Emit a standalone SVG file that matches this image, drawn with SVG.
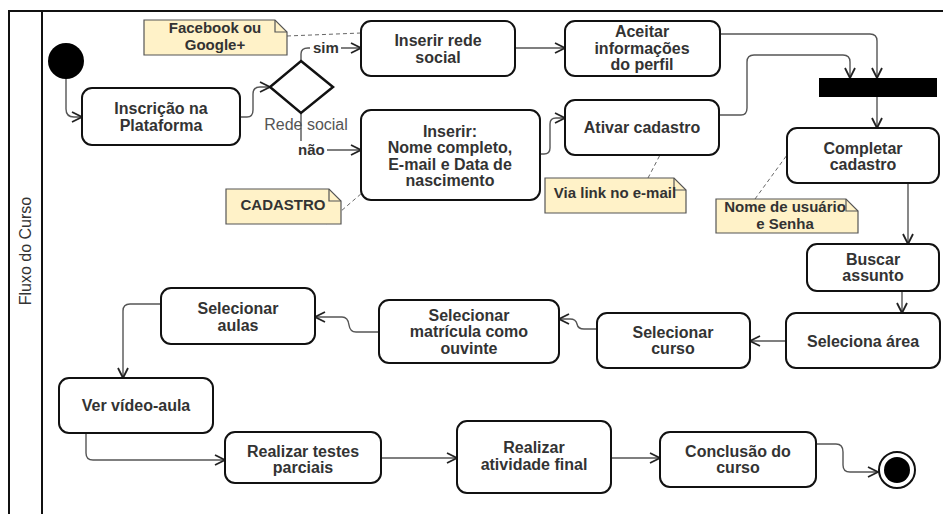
<svg xmlns="http://www.w3.org/2000/svg" width="943" height="514" viewBox="0 0 943 514">
  <style>
    .node { fill: #ffffff; stroke: #111111; stroke-width: 2; }
    .lbl { font-family: "Liberation Sans", Arial, sans-serif; font-size: 16px; font-weight: bold; fill: #333333; text-anchor: middle; }
    .note { fill: #fff2c8; stroke: #555555; stroke-width: 1.2; }
    .fold { fill: none; stroke: #555555; stroke-width: 1.2; }
    .ntxt { font-family: "Liberation Sans", Arial, sans-serif; font-size: 15px; font-weight: bold; fill: #333333; text-anchor: middle; }
    .edge { fill: none; stroke: #555555; stroke-width: 1.4; marker-end: url(#arr); }
    .anchor { fill: none; stroke: #666666; stroke-width: 1; stroke-dasharray: 4 3; }
    .guard { font-family: "Liberation Sans", Arial, sans-serif; font-size: 15px; font-weight: bold; fill: #333333; }
    .frame { stroke: #111111; stroke-width: 2; fill: none; }
  </style>
  <defs>
    <marker id="arr" viewBox="0 0 12 12" refX="11" refY="6" markerWidth="12" markerHeight="12" markerUnits="userSpaceOnUse" orient="auto">
      <path d="M1,1 L11,6 L1,11" fill="none" stroke="#222222" stroke-width="1.8"/>
    </marker>
  </defs>

  <rect width="943" height="514" fill="#ffffff"/>

  <!-- swimlane -->
  <g id="lane">
    <path class="frame" d="M9,514 V11 H943 M42,11 V514"/>
    <text transform="translate(31,251) rotate(-90)" font-family="Liberation Sans, Arial, sans-serif" font-size="16" fill="#333333" text-anchor="middle">Fluxo do Curso</text>
  </g>

  <!-- connectors -->
  <g id="connectors">
    <path class="edge" d="M66,78 V109 Q66,117 74,117 H82"/>
    <path class="edge" d="M240,117 H247 Q253,117 253,110 V94 Q253,87 260,87 H270"/>
    <path class="edge" d="M301,61 V54 Q301,48 308,48 H361"/>
    <path class="edge" d="M301,113 V144 Q301,150 307,150 H361"/>
    <path class="edge" d="M515,48 H565"/>
    <path class="edge" d="M540,154 H544 Q550,154 550,148 V124 Q550,118 556,118 H565"/>
    <path class="edge" d="M720,34 H870 Q877,34 877,41 V78"/>
    <path class="edge" d="M719,115 H741 Q747,115 747,108 V62 Q747,55 754,55 H843 Q850,55 850,62 V78"/>
    <path class="edge" d="M877,97 V128"/>
    <path class="edge" d="M908,183 V244"/>
    <path class="edge" d="M902,291 V313"/>
    <path class="edge" d="M786,341 H750"/>
    <path class="edge" d="M597,329 H584 Q578,329 577,324 Q576,319 570,319 H559"/>
    <path class="edge" d="M379,332 H356 Q350,332 349,325 Q348,317 342,317 H315"/>
    <path class="edge" d="M161,304 H130 Q123,304 123,311 V378"/>
    <path class="edge" d="M86,433 V453 Q86,460 93,460 H225"/>
    <path class="edge" d="M381,458 H457"/>
    <path class="edge" d="M611,458 H660"/>
    <path class="edge" d="M816,444 H836 Q843,444 843,452 V465 Q843,472 850,472 H878"/>
    <!-- note anchors -->
    <path class="anchor" d="M287,36 L361,33"/>
    <path class="anchor" d="M326,224 L362,193"/>
    <path class="anchor" d="M648,178 L660,155"/>
    <path class="anchor" d="M755,199 L787,155"/>
  </g>

  <!-- guard labels -->
  <g id="guards">
    <rect x="310" y="39" width="31" height="16" fill="#ffffff"/>
    <text class="guard" x="313" y="53">sim</text>
    <rect x="296" y="141" width="31" height="17" fill="#ffffff"/>
    <text class="guard" x="298" y="155">não</text>
  </g>

  <g id="start">
    <circle cx="66" cy="61" r="18" fill="#000000"/>
  </g>

  <g id="inscricao">
    <rect class="node" x="82" y="88" width="158" height="57" rx="10"/>
    <text class="lbl" x="161" y="114">Inscrição na</text>
    <text class="lbl" x="161" y="131">Plataforma</text>
  </g>

  <g id="decisao">
    <polygon points="301,61 333,87 301,113 270,87" fill="#ffffff" stroke="#111111" stroke-width="2.5"/>
    <text x="306" y="130" font-family="Liberation Sans, Arial, sans-serif" font-size="16" fill="#555555" text-anchor="middle">Rede social</text>
  </g>

  <g id="inserir-rede">
    <rect class="node" x="361" y="21" width="154" height="55" rx="10"/>
    <text class="lbl" x="438" y="46">Inserir rede</text>
    <text class="lbl" x="438" y="63">social</text>
  </g>

  <g id="aceitar">
    <rect class="node" x="565" y="21" width="155" height="55" rx="10"/>
    <text class="lbl" x="642" y="37">Aceitar</text>
    <text class="lbl" x="642" y="54">informações</text>
    <text class="lbl" x="642" y="70">do perfil</text>
  </g>

  <g id="inserir-dados">
    <rect class="node" x="361" y="110" width="179" height="90" rx="10"/>
    <text class="lbl" x="450" y="137">Inserir:</text>
    <text class="lbl" x="450" y="153">Nome completo,</text>
    <text class="lbl" x="450" y="170">E-mail e Data de</text>
    <text class="lbl" x="450" y="186">nascimento</text>
  </g>

  <g id="ativar">
    <rect class="node" x="565" y="100" width="154" height="55" rx="10"/>
    <text class="lbl" x="642" y="133">Ativar cadastro</text>
  </g>

  <g id="juncao">
    <rect x="819" y="78" width="118" height="19" fill="#000000"/>
  </g>

  <g id="completar">
    <rect class="node" x="787" y="128" width="152" height="55" rx="10"/>
    <text class="lbl" x="863" y="154">Completar</text>
    <text class="lbl" x="863" y="170">cadastro</text>
  </g>

  <g id="buscar">
    <rect class="node" x="807" y="244" width="132" height="47" rx="10"/>
    <text class="lbl" x="873" y="265">Buscar</text>
    <text class="lbl" x="873" y="281">assunto</text>
  </g>

  <g id="seleciona-area">
    <rect class="node" x="786" y="313" width="154" height="55" rx="10"/>
    <text class="lbl" x="863" y="347">Seleciona área</text>
  </g>

  <g id="selecionar-curso">
    <rect class="node" x="597" y="313" width="153" height="55" rx="10"/>
    <text class="lbl" x="673" y="338">Selecionar</text>
    <text class="lbl" x="673" y="354">curso</text>
  </g>

  <g id="matricula">
    <rect class="node" x="379" y="300" width="180" height="63" rx="10"/>
    <text class="lbl" x="469" y="321">Selecionar</text>
    <text class="lbl" x="469" y="337">matrícula como</text>
    <text class="lbl" x="469" y="354">ouvinte</text>
  </g>

  <g id="aulas">
    <rect class="node" x="161" y="288" width="154" height="56" rx="10"/>
    <text class="lbl" x="238" y="314">Selecionar</text>
    <text class="lbl" x="238" y="331">aulas</text>
  </g>

  <g id="video">
    <rect class="node" x="59" y="378" width="154" height="55" rx="10"/>
    <text class="lbl" x="136" y="411">Ver vídeo-aula</text>
  </g>

  <g id="testes">
    <rect class="node" x="225" y="432" width="156" height="51" rx="10"/>
    <text class="lbl" x="303" y="457">Realizar testes</text>
    <text class="lbl" x="303" y="473">parciais</text>
  </g>

  <g id="atividade">
    <rect class="node" x="457" y="421" width="154" height="72" rx="10"/>
    <text class="lbl" x="534" y="453">Realizar</text>
    <text class="lbl" x="534" y="470">atividade final</text>
  </g>

  <g id="conclusao">
    <rect class="node" x="660" y="432" width="156" height="55" rx="10"/>
    <text class="lbl" x="738" y="457">Conclusão do</text>
    <text class="lbl" x="738" y="473">curso</text>
  </g>

  <g id="fim">
    <circle cx="897" cy="470" r="18" fill="#ffffff" stroke="#111111" stroke-width="2"/>
    <circle cx="897" cy="470" r="13" fill="#000000"/>
  </g>

  <!-- notes -->
  <g id="nota-facebook">
    <path class="note" d="M144,20 H275 L287,32 V55 H144 Z"/>
    <path class="fold" d="M275,20 V32 H287"/>
    <text class="ntxt" x="215" y="33">Facebook ou</text>
    <text class="ntxt" x="215" y="50">Google+</text>
  </g>

  <g id="nota-cadastro">
    <path class="note" d="M226,189 H329 L341,201 V224 H226 Z"/>
    <path class="fold" d="M329,189 V201 H341"/>
    <text class="ntxt" x="283" y="210">CADASTRO</text>
  </g>

  <g id="nota-link">
    <path class="note" d="M545,178 H674 L686,190 V213 H545 Z"/>
    <path class="fold" d="M674,178 V190 H686"/>
    <text class="ntxt" x="615" y="198">Via link no e-mail</text>
  </g>

  <g id="nota-usuario">
    <path class="note" d="M716,199 H846 L858,211 V233 H716 Z"/>
    <path class="fold" d="M846,199 V211 H858"/>
    <text class="ntxt" x="785" y="212" font-size="14.5">Nome de usuário</text>
    <text class="ntxt" x="785" y="229" font-size="14.5">e Senha</text>
  </g>
</svg>
